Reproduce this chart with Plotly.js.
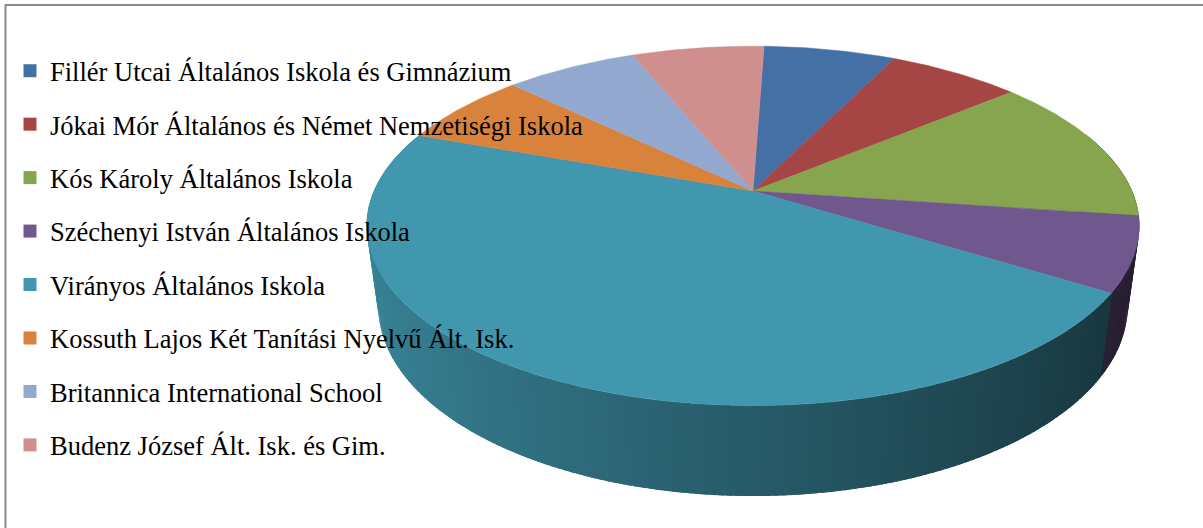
<!DOCTYPE html>
<html>
<head>
<meta charset="utf-8">
<script src="https://cdn.plot.ly/plotly-3.0.1.min.js"></script>
<style>html,body{margin:0;padding:0;background:#fff;}#chart{width:1203px;height:528px;}</style>
</head>
<body>
<div id="chart"></div>
<script>
// ---- data ----
const categories = [
  "Fillér Utcai Általános Iskola és Gimnázium",
  "Jókai Mór Általános és Német Nemzetiségi Iskola",
  "Kós Károly Általános Iskola",
  "Széchenyi István Általános Iskola",
  "Virányos Általános Iskola",
  "Kossuth Lajos Két Tanítási Nyelvű Ált. Isk.",
  "Britannica International School",
  "Budenz József Ált. Isk. és Gim."
];
const values = [1, 1, 2, 1, 7, 1, 1, 1];
const colors = ["#4470a5", "#a64644", "#87a44e", "#70578e", "#4197ae", "#d9823c", "#92a8cf", "#cf8f8e"];

// ---- 3D pie projection (style / layout parameters) ----
const geo = {cx: 753, cy: 191, sx: 379, sy: 173, k: 0.194, kh: 0.03, hy: 82, startDeg: 2};
const D2R = Math.PI / 180;
function proj(deg, bottom) {
  const t = deg * D2R, X = Math.sin(t), Z = Math.cos(t);
  const w = 1 + geo.k * Z + (bottom ? geo.kh : 0);
  return [geo.cx + geo.sx * X / w, geo.cy + (-geo.sy * Z + (bottom ? geo.hy : 0)) / w];
}
function shade(hex, f) {
  const n = parseInt(hex.slice(1), 16);
  const r = Math.round(((n >> 16) & 255) * f), g = Math.round(((n >> 8) & 255) * f), b = Math.round((n & 255) * f);
  return `rgb(${r},${g},${b})`;
}
const total = values.reduce((a, b) => a + b, 0);
const bounds = [];
let acc = geo.startDeg;
values.forEach(v => { const a1 = acc; acc += v / total * 360; bounds.push([a1, acc]); });
function sliceAt(deg) {
  let d = deg;
  while (d < geo.startDeg) d += 360;
  while (d >= geo.startDeg + 360) d -= 360;
  for (let i = 0; i < bounds.length; i++) if (d >= bounds[i][0] && d < bounds[i][1]) return i;
  return bounds.length - 1;
}

const traces = [];
// side wall strips, painter's order (back to front)
const step = 1;
const strips = [];
for (let a = 0; a < 360; a += step) {
  const mid = a + step / 2;
  if (Math.cos(mid * D2R) > 0.35) continue;
  strips.push(a);
}
strips.sort((p, q) => Math.cos((q + step / 2) * D2R) - Math.cos((p + step / 2) * D2R));
strips.forEach(a => {
  const mid = a + step / 2;
  const idx = sliceAt(mid);
  const a0 = a - 0.4, b0 = a + step + 0.4;
  const f = 0.6 - 0.27 * Math.sin(mid * D2R);
  const c = shade(colors[idx], f);
  const xs = [], ys = [];
  const n = 4;
  for (let j = 0; j <= n; j++) { const p = proj(a0 + (b0 - a0) * j / n, false); xs.push(p[0]); ys.push(p[1]); }
  for (let j = n; j >= 0; j--) { const p = proj(a0 + (b0 - a0) * j / n, true); xs.push(p[0]); ys.push(p[1]); }
  traces.push({type: "scatter", mode: "lines", x: xs, y: ys, fill: "toself", fillcolor: c,
    line: {width: 0, color: c}, showlegend: false, hoverinfo: "skip"});
});
// top faces
bounds.forEach((bd, i) => {
  const xs = [geo.cx], ys = [geo.cy];
  for (let d = bd[0]; d <= bd[1] + 1e-9; d += 0.5) { const p = proj(d, false); xs.push(p[0]); ys.push(p[1]); }
  xs.push(geo.cx); ys.push(geo.cy);
  traces.push({type: "scatter", mode: "lines", x: xs, y: ys, fill: "toself", fillcolor: colors[i],
    line: {color: colors[i], width: 0.5}, showlegend: false, hoverinfo: "skip", name: categories[i]});
});
// legend entries
categories.forEach((name, i) => {
  traces.push({type: "scatter", mode: "markers", x: [null], y: [null], name: name,
    legendgroup: "g" + i, marker: {symbol: "square", size: 13, color: colors[i]}, showlegend: true, hoverinfo: "skip"});
});

const layout = {
  width: 1203, height: 528,
  margin: {l: 0, r: 0, t: 0, b: 0},
  paper_bgcolor: "#ffffff", plot_bgcolor: "#ffffff",
  xaxis: {range: [0, 1203], visible: false, fixedrange: true},
  yaxis: {range: [528, 0], visible: false, fixedrange: true},
  showlegend: true,
  legend: {x: 10 / 1203, xanchor: "left", y: 1 - 47 / 528, yanchor: "top",
    bgcolor: "rgba(0,0,0,0)", borderwidth: 0, tracegroupgap: 16, traceorder: "grouped",
    font: {family: "'Liberation Serif', 'Times New Roman', serif", size: 26.5, color: "#000000"}},
  shapes: [{type: "rect", xref: "x", yref: "y", x0: 5.5, y0: 5, x1: 1220, y1: 545,
    line: {color: "#8a8a8a", width: 2}, fillcolor: "rgba(0,0,0,0)"}]
};
Plotly.newPlot("chart", traces, layout, {displayModeBar: false, staticPlot: true});
</script>
</body>
</html>
